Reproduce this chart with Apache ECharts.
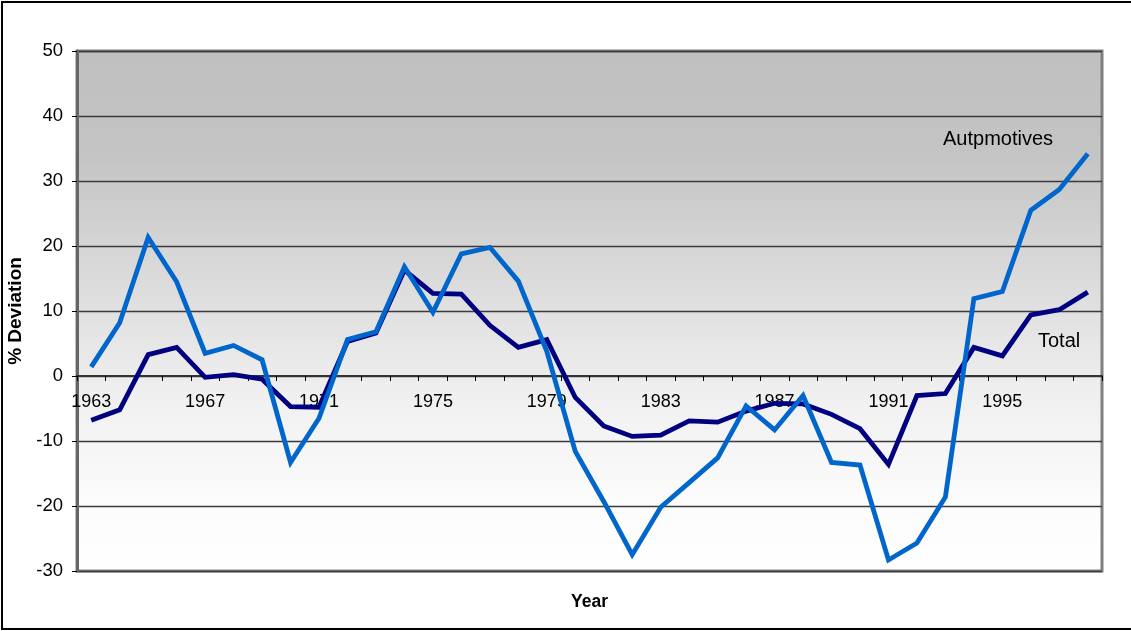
<!DOCTYPE html>
<html>
<head>
<meta charset="utf-8">
<script src="https://cdn.jsdelivr.net/npm/echarts@6/dist/echarts.min.js"></script>
<style>
  html, body { margin: 0; padding: 0; background: #fff; }
  #frame { position: absolute; left: 1px; top: 1px; width: 1140px; height: 629px;
           border: 2px solid #000; box-sizing: border-box; }
  #chart { position: absolute; left: 0; top: 0; width: 1131px; height: 631px; }
</style>
</head>
<body>
<div id="frame"></div>
<div id="chart"></div>
<script>
// Years on the category axis
const years = [];
for (let y = 1963; y <= 1998; y++) years.push(String(y));

// Value axis range and step
const yMin = -30, yMax = 50, yStep = 10;

// % deviation from trend, automotive sector
const automotives = [
  1.4, 8.2, 21.3, 14.5, 3.5, 4.7, 2.5, -13.3, -6.5, 5.6,
  6.8, 16.8, 9.8, 18.8, 19.8, 14.6, 3.8, -11.6, -19.3, -27.5,
  -20.2, -16.4, -12.6, -4.6, -8.3, -3.0, -13.3, -13.7, -28.3, -25.7,
  -18.6, 11.9, 13.0, 25.5, 28.7, 34.2
];

// % deviation from trend, total
const total = [
  -6.8, -5.2, 3.3, 4.4, -0.2, 0.2, -0.5, -4.7, -4.8, 5.3,
  6.6, 16.3, 12.7, 12.6, 7.8, 4.4, 5.6, -3.3, -7.7, -9.3,
  -9.1, -6.9, -7.1, -5.4, -4.2, -4.3, -5.9, -8.1, -13.6, -3.0,
  -2.7, 4.4, 3.1, 9.4, 10.2, 12.9
];

const FONT = '"Liberation Sans", Arial, sans-serif';
const W = 1131, H = 631;
const grid = { left: 77, top: 51, right: 29, bottom: 60 };
const plotH = H - grid.top - grid.bottom;
// lift the category axis (line, ticks, labels) up to the zero line
const zeroLift = -plotH * (0 - yMin) / (yMax - yMin);

const chart = echarts.init(document.getElementById('chart'), null, { renderer: 'canvas' });

chart.setOption({
  animation: false,
  grid: Object.assign({}, grid, {
    outerBoundsMode: 'none',
    containLabel: false,
    show: true,
    borderColor: '#808080',
    borderWidth: 3,
    backgroundColor: {
      type: 'linear', x: 0, y: 0, x2: 0, y2: 1,
      colorStops: [
        { offset: 0, color: '#c0c0c0' },
        { offset: 0.2, color: '#c4c4c4' },
        { offset: 0.45, color: '#dcdcdc' },
        { offset: 0.65, color: '#efefef' },
        { offset: 0.85, color: '#fbfbfb' },
        { offset: 1, color: '#ffffff' }
      ]
    }
  }),
  xAxis: {
    type: 'category',
    data: years,
    boundaryGap: true,
    offset: zeroLift,
    axisLine: { onZero: false, lineStyle: { color: '#333', width: 2 } },
    axisTick: { show: true, interval: 0, length: 5, lineStyle: { color: '#000', width: 1 } },
    axisLabel: { interval: 3, color: '#000', fontSize: 18, fontFamily: FONT, margin: 17 },
    splitLine: { show: false }
  },
  yAxis: {
    type: 'value',
    min: yMin, max: yMax, interval: yStep,
    name: '% Deviation',
    nameLocation: 'middle',
    nameGap: 49,
    nameTextStyle: { color: '#000', fontSize: 19, fontWeight: 'bold', fontFamily: FONT },
    axisLine: { show: true, lineStyle: { color: '#666', width: 3 } },
    axisTick: { show: true, length: 5, lineStyle: { color: '#000', width: 1 } },
    axisLabel: { color: '#000', fontSize: 18.5, fontFamily: FONT, margin: 14 },
    splitLine: { show: true, lineStyle: { color: '#3a3a3a', width: 1.3 } }
  },
  series: [
    {
      name: 'Total',
      type: 'line',
      data: total,
      symbol: 'none',
      lineStyle: { color: '#000080', width: 4.8, join: 'miter' },
      z: 3
    },
    {
      name: 'Autpmotives',
      type: 'line',
      data: automotives,
      symbol: 'none',
      lineStyle: { color: '#0066cc', width: 4.8, join: 'miter' },
      z: 4
    }
  ],
  graphic: [
    { type: 'text', left: 943, top: 129,
      style: { text: 'Autpmotives', fill: '#000', font: '20px ' + FONT } },
    { type: 'text', left: 1038, top: 331,
      style: { text: 'Total', fill: '#000', font: '20px ' + FONT } },
    { type: 'text', x: 589.5, y: 602, style: { text: 'Year', fill: '#000',
      font: 'bold 17.5px ' + FONT, textAlign: 'center', textVerticalAlign: 'middle' } }
  ]
});
</script>
</body>
</html>
